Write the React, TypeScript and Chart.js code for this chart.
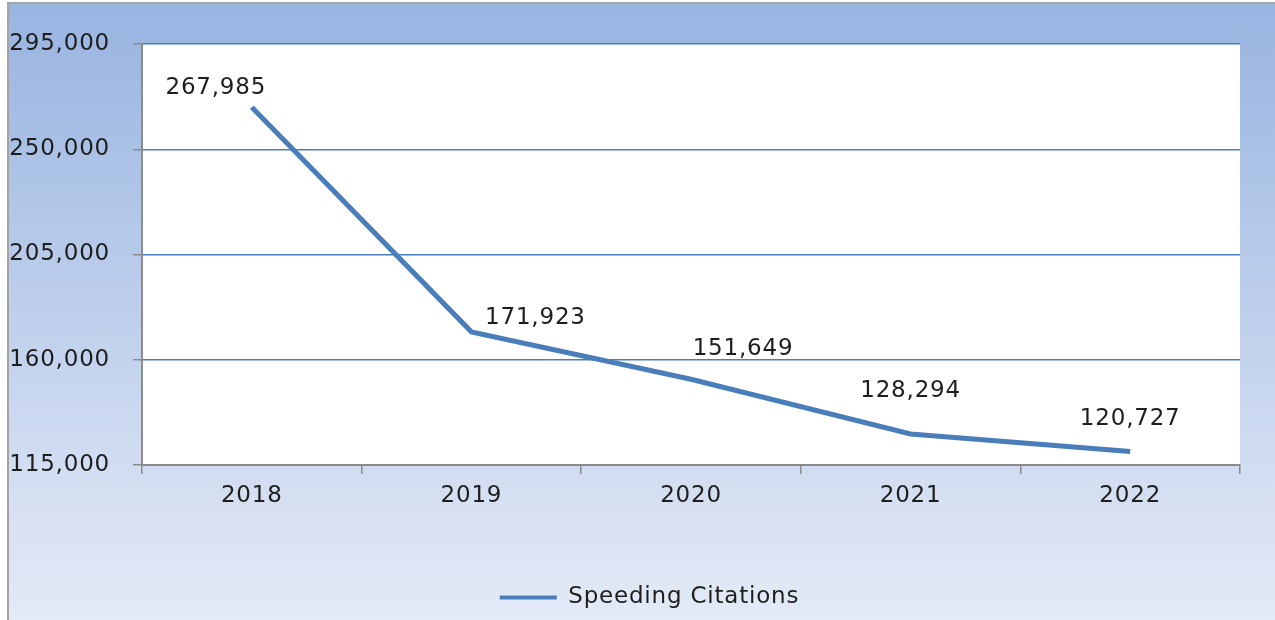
import React, { useEffect, useRef } from "react";
import { Chart, registerables } from "chart.js";

Chart.register(...registerables);

const years = ["2018", "2019", "2020", "2021", "2022"];
const speedingCitations = [267985, 171923, 151649, 128294, 120727];
const yTicks = [115000, 160000, 205000, 250000, 295000];
const seriesName = "Speeding Citations";

// label offsets (dx, dy) relative to each point, in px — styling only
const labelDx = [-36, 64, 52, 0, 0];
const labelDy = [-19, -14, -30, -43, -33];

const LINE = "#4a7ebb";
const AXIS = "#8c8c8c";
const TEXT = "#1e1e1e";
const FONT = "'DejaVu Sans', Verdana, sans-serif";
const FS = 23;
const SPACING = "0.8px";
const LEGEND_SHIFT = 26;

export default function App() {
  const ref = useRef<HTMLCanvasElement | null>(null);
  useEffect(() => {
    if (!ref.current) return;
    const spacingPlugin = {
      id: "spacing",
      beforeUpdate(chart: any) {
        chart.ctx.letterSpacing = SPACING;
      },
      beforeLayout(chart: any) {
        chart.ctx.letterSpacing = SPACING;
      },
      afterLayout(chart: any) {
        if (chart.legend) {
          chart.legend.left += LEGEND_SHIFT;
          chart.legend.right += LEGEND_SHIFT;
        }
      },
      beforeDraw(chart: any) {
        chart.ctx.letterSpacing = SPACING;
      },
    };
    const bgPlugin = {
      id: "bg",
      beforeDraw(chart: any) {
        const { ctx, width, height, chartArea } = chart;
        ctx.save();
        const g = ctx.createLinearGradient(0, 0, 0, height);
        g.addColorStop(0, "#98b4e1");
        g.addColorStop(1, "#e4eaf6");
        ctx.fillStyle = g;
        ctx.fillRect(0, 0, width, height);
        ctx.fillStyle = "#ffffff";
        ctx.fillRect(chartArea.left, chartArea.top, chartArea.right - chartArea.left, chartArea.bottom - chartArea.top);
        ctx.strokeStyle = "#a3a3a3";
        ctx.lineWidth = 2;
        ctx.beginPath();
        ctx.moveTo(1, height);
        ctx.lineTo(1, 1);
        ctx.lineTo(width, 1);
        ctx.stroke();
        ctx.restore();
      },
    };
    const labelPlugin = {
      id: "dlabels",
      afterDatasetsDraw(chart: any) {
        const { ctx } = chart;
        const meta = chart.getDatasetMeta(0);
        ctx.save();
        ctx.font = `${FS}px ${FONT}`;
        ctx.fillStyle = TEXT;
        ctx.textAlign = "center";
        ctx.textBaseline = "middle";
        meta.data.forEach((pt: any, i: number) => {
          const v = speedingCitations[i].toLocaleString("en-US");
          ctx.fillText(v, pt.x + labelDx[i], pt.y + labelDy[i]);
        });
        ctx.restore();
      },
    };
    const chart = new Chart(ref.current, {
      type: "line",
      data: {
        labels: years,
        datasets: [
          {
            label: seriesName,
            data: speedingCitations,
            borderColor: LINE,
            backgroundColor: LINE,
            borderWidth: 5,
            pointRadius: 0,
            tension: 0,
            borderCapStyle: "butt",
          },
        ],
      },
      options: {
        animation: false,
        responsive: false,
        maintainAspectRatio: false,
        layout: { padding: { top: 42, right: 35, left: 0, bottom: 1 } },
        plugins: {
          tooltip: { enabled: false },
          legend: {
            position: "bottom",
            labels: {
              boxWidth: 57,
              boxHeight: 4,
              color: TEXT,
              font: { family: FONT, size: FS },
              generateLabels: () => [
                {
                  text: seriesName,
                  fillStyle: LINE,
                  strokeStyle: LINE,
                  lineWidth: 0,
                  hidden: false,
                  datasetIndex: 0,
                  fontColor: TEXT,
                } as any,
              ],
            },
          },
        },
        scales: {
          x: {
            offset: true,
            afterFit(scale: any) {
              scale.height = 111;
            },
            grid: {
              offset: true,
              drawOnChartArea: false,
              drawTicks: true,
              tickLength: 9,
              tickColor: AXIS,
              lineWidth: 1.5,
            },
            border: { color: AXIS, width: 2 },
            ticks: { color: TEXT, font: { family: FONT, size: FS }, padding: 8, maxRotation: 0 },
          },
          y: {
            min: 115000,
            max: 295000,
            afterFit(scale: any) {
              scale.width = 135;
            },
            afterBuildTicks(scale: any) {
              scale.ticks = yTicks.map((v) => ({ value: v }));
            },
            grid: {
              color: (c: any) => (c.tick && c.tick.value === 115000 ? "rgba(0,0,0,0)" : LINE),
              lineWidth: 1.5,
              drawTicks: true,
              tickLength: 9,
              tickColor: AXIS,
            },
            border: { color: AXIS, width: 2 },
            ticks: {
              color: TEXT,
              font: { family: FONT, size: FS },
              padding: 23,
              callback: (v: any) => Number(v).toLocaleString("en-US"),
            },
          },
        },
      },
      plugins: [spacingPlugin, bgPlugin, labelPlugin],
    } as any);
    return () => chart.destroy();
  }, []);
  return (
    <div style={{ position: "absolute", left: 7, top: 2, width: 1268, height: 618 }}>
      <canvas ref={ref} width={1268} height={618} style={{ display: "block" }} />
    </div>
  );
}
